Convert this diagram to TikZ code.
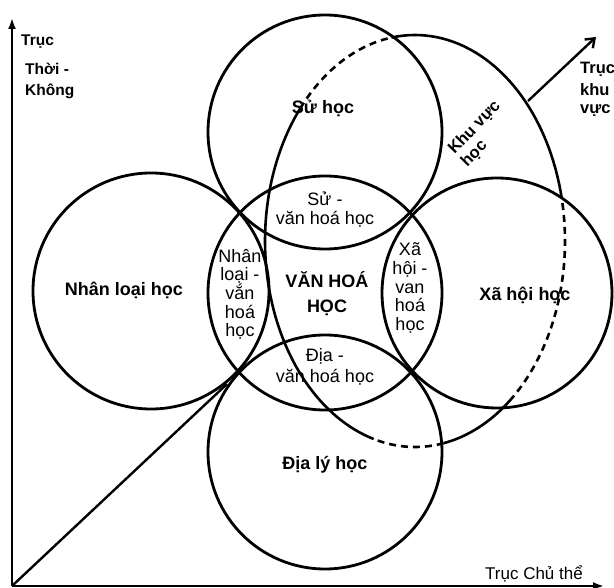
\documentclass[tikz,border=0pt]{standalone}
\usepackage{fontspec}
\setmainfont{Liberation Sans}
\usetikzlibrary{arrows.meta}
\begin{document}
\begin{tikzpicture}[x=1pt,y=-1pt,
  ring/.style={circle, draw, line width=2.8pt, minimum size=#1, inner sep=0pt},
  axisline/.style={line width=2.4pt},
  edge/.style={line width=2.6pt},
  hidden/.style={line width=2.6pt, dash pattern=on 7pt off 5pt},
  lbl/.style={font=\fontsize{18}{19}\selectfont, align=center, inner sep=0pt},
  blbl/.style={font=\bfseries\fontsize{18}{19}\selectfont, align=center, inner sep=0pt},
  axlbl/.style={font=\fontsize{16}{19}\selectfont, inner sep=0pt, anchor=west},
]
\useasboundingbox (0,0) rectangle (614,588);
% circles
\node[ring=234pt] (su) at (325,132) {};
\node[ring=234pt] (vh) at (325,293) {};
\node[ring=234pt] (dia) at (325,452) {};
\node[ring=236pt] (nl) at (151,291) {};
\node[ring=230pt] (xh) at (497,293) {};
% region ellipse (Khu vuc hoc)
\begin{scope}[shift={(415,241)}]
\draw[edge] plot[domain=99:14,samples=40] ({150*cos(\x)},{-206*sin(\x)});
\draw[hidden] plot[domain=14:-49,samples=40] ({150*cos(\x)},{-206*sin(\x)});
\draw[edge] plot[domain=-49:-79,samples=20] ({150*cos(\x)},{-206*sin(\x)});
\draw[hidden] plot[domain=-79:-106,samples=20] ({150*cos(\x)},{-206*sin(\x)});
\draw[edge] plot[domain=-106:-220,samples=60] ({150*cos(\x)},{-206*sin(\x)});
\draw[hidden] plot[domain=140:99,samples=30] ({150*cos(\x)},{-206*sin(\x)});
\end{scope}
% axes
\coordinate (O) at (12,586);
\coordinate (ytop) at (12,18);
\coordinate (xend) at (604,586);
\coordinate (dA) at (227,384);
\coordinate (dB) at (528,101);
\coordinate (dtip) at (596,37);
\draw[axisline,-{Latex[length=11pt,width=8pt]}] (O) -- (ytop);
\draw[axisline,-{Latex[length=11pt,width=8pt]}] (O) -- (xend);
\draw[axisline] (O) -- (dA);
\draw[axisline,-{Straight Barb[length=8pt,width=12pt]}] (dB) -- (dtip);
% labels
\node[blbl] (lsu) at (323,108) {Sử học};
\node[lbl] (lsuvh) at (325,210) {Sử -\\văn hoá học};
\node[blbl] (lnl) at (124,290) {Nhân loại học};
\node[lbl, font=\fontsize{18}{18.3}\selectfont] (lnlvh) at (240,294) {Nhân\\loại -\\vắn\\hoá\\học};
\node[blbl, font=\bfseries\fontsize{18}{25}\selectfont] (lvh) at (327,294) {VĂN HOÁ\\HỌC};
\node[lbl, font=\fontsize{18}{18.8}\selectfont] (lxhvh) at (410,288) {Xã\\hội -\\van\\hoá\\học};
\node[lbl, font=\fontsize{18}{21}\selectfont] (ldiavh) at (325,367) {Địa -\\văn hoá học};
\node[blbl] (ldia) at (325,465) {Địa lý học};
\node[blbl] (lxh) at (525,295) {Xã hội học};
\node[blbl, font=\bfseries\fontsize{16.5}{18}\selectfont, align=left, rotate=46] (lkv) at (481,134) {Khu vực\\học};
\node[axlbl, font=\bfseries\fontsize{15.5}{19}\selectfont] (t1) at (21,42) {Trục};
\node[axlbl, font=\bfseries\fontsize{15.5}{19}\selectfont] (t2) at (25,69) {Thời -};
\node[axlbl, font=\bfseries\fontsize{15.5}{19}\selectfont] (t3) at (25,91) {Không};
\node[axlbl, font=\bfseries\fontsize{16.5}{19}\selectfont] (k1) at (580,69) {Trục};
\node[axlbl, font=\bfseries\fontsize{16.5}{19}\selectfont] (k2) at (580,90) {khu};
\node[axlbl, font=\bfseries\fontsize{16.5}{19}\selectfont] (k3) at (580,111) {vực};
\node[axlbl, font=\fontsize{17}{19}\selectfont, anchor=center] (tc) at (534,574) {Trục Chủ thể};
\end{tikzpicture}
\end{document}
